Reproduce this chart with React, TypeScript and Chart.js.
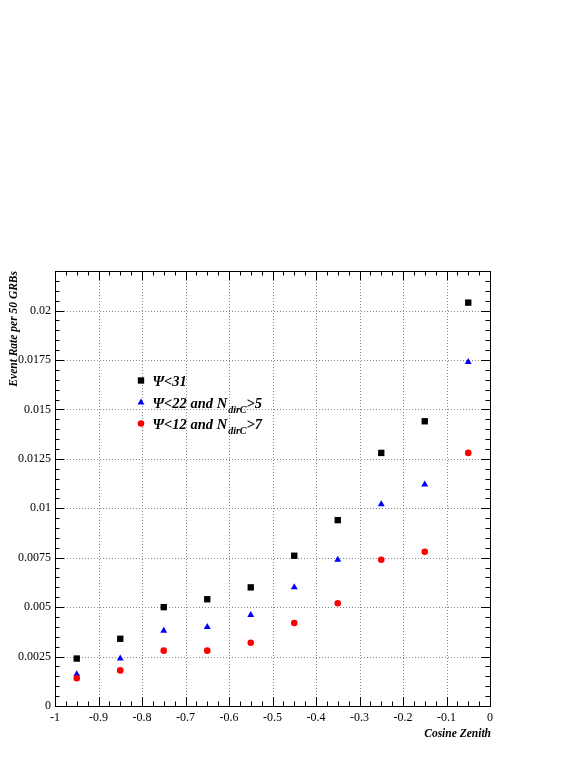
import React, { useEffect, useRef } from "react";
import { Chart, registerables } from "chart.js";

Chart.register(...registerables);

// ---- data ----
const cosZenith = [-0.95, -0.85, -0.75, -0.65, -0.55, -0.45, -0.35, -0.25, -0.15, -0.05];
const psi31 = [0.0024, 0.0034, 0.005, 0.0054, 0.006, 0.0076, 0.0094, 0.0128, 0.0144, 0.0204];
const psi22 = [0.0016, 0.0024, 0.0038, 0.004, 0.0046, 0.006, 0.0074, 0.0102, 0.0112, 0.0174];
const psi12 = [0.0014, 0.0018, 0.0028, 0.0028, 0.0032, 0.0042, 0.0052, 0.0074, 0.0078, 0.0128];

const xTicks = [-1, -0.9, -0.8, -0.7, -0.6, -0.5, -0.4, -0.3, -0.2, -0.1, 0];
const xTickLabels = ["-1", "-0.9", "-0.8", "-0.7", "-0.6", "-0.5", "-0.4", "-0.3", "-0.2", "-0.1", "0"];
const yTicks = [0, 0.0025, 0.005, 0.0075, 0.01, 0.0125, 0.015, 0.0175, 0.02];
const yTickLabels = ["0", "0.0025", "0.005", "0.0075", "0.01", "0.0125", "0.015", "0.0175", "0.02"];
const xMin = -1;
const xMax = 0;
const yMin = 0;
const yMax = 0.022;
const xMinorStep = 0.025;
const yMinorStep = 0.0005;

const seriesMain = ["\u03A8<31", "\u03A8<22 and N", "\u03A8<12 and N"];
const seriesSub = ["", "dirC", "dirC"];
const seriesTail = ["", ">5", ">7"];
const seriesColors = ["#000000", "#0000ff", "#ff0000"];
const seriesStyles = ["rect", "triangle", "circle"];
const seriesRadius = [4.5, 4, 3.3];

const xTitle = "Cosine Zenith";
const yTitle = "Event Rate per 50 GRBs";

const SERIF = '"Liberation Serif", "Times New Roman", serif';

function drawMarker(ctx: CanvasRenderingContext2D, style: string, x: number, y: number, r: number, color: string) {
  ctx.save();
  ctx.fillStyle = color;
  ctx.beginPath();
  if (style === "rect") {
    const s = Math.SQRT1_2 * r;
    ctx.rect(x - s, y - s, 2 * s, 2 * s);
  } else if (style === "triangle") {
    const a = r;
    ctx.moveTo(x, y - a);
    ctx.lineTo(x + a * Math.sin(Math.PI / 3), y + a / 2);
    ctx.lineTo(x - a * Math.sin(Math.PI / 3), y + a / 2);
    ctx.closePath();
  } else {
    ctx.arc(x, y, r, 0, Math.PI * 2);
  }
  ctx.fill();
  ctx.restore();
}

const decorPlugin = {
  id: "decor",
  beforeDatasetsDraw(chart: any) {
    const { ctx, chartArea, scales } = chart;
    const { left, right, top, bottom } = chartArea;
    const x = scales.x;
    const y = scales.y;
    ctx.save();
    ctx.strokeStyle = "#888888";
    ctx.lineWidth = 1;
    ctx.setLineDash([1, 2]);
    xTicks.forEach((v) => {
      if (v <= xMin || v >= xMax) return;
      const px = Math.round(x.getPixelForValue(v)) + 0.5;
      ctx.beginPath();
      ctx.moveTo(px, top);
      ctx.lineTo(px, bottom);
      ctx.stroke();
    });
    yTicks.forEach((v) => {
      if (v <= yMin || v >= yMax) return;
      const py = Math.round(y.getPixelForValue(v)) + 0.5;
      ctx.beginPath();
      ctx.moveTo(left, py);
      ctx.lineTo(right, py);
      ctx.stroke();
    });
    ctx.restore();
  },
  afterDatasetsDraw(chart: any) {
    const { ctx, chartArea, scales } = chart;
    const { left, right, top, bottom } = chartArea;
    const x = scales.x;
    const y = scales.y;
    ctx.save();
    ctx.strokeStyle = "#000";
    ctx.lineWidth = 1;
    ctx.setLineDash([]);
    // frame
    ctx.strokeRect(Math.round(left) + 0.5, Math.round(top) + 0.5, Math.round(right - left), Math.round(bottom - top));
    // x ticks
    const nx = Math.round((xMax - xMin) / xMinorStep);
    for (let i = 0; i <= nx; i++) {
      const v = xMin + i * xMinorStep;
      const major = i % 4 === 0;
      const len = major ? 9 : 4.5;
      const px = Math.round(x.getPixelForValue(v)) + 0.5;
      ctx.beginPath();
      ctx.moveTo(px, bottom);
      ctx.lineTo(px, bottom - len);
      ctx.moveTo(px, top);
      ctx.lineTo(px, top + len);
      ctx.stroke();
    }
    // y ticks
    const ny = Math.round((yMax - yMin) / yMinorStep);
    for (let i = 0; i <= ny; i++) {
      const v = yMin + i * yMinorStep;
      const major = i % 5 === 0;
      const len = major ? 9 : 4.5;
      const py = Math.round(y.getPixelForValue(v)) + 0.5;
      ctx.beginPath();
      ctx.moveTo(left, py);
      ctx.lineTo(left + len, py);
      ctx.moveTo(right, py);
      ctx.lineTo(right - len, py);
      ctx.stroke();
    }

    // axis titles
    ctx.fillStyle = "#000";
    ctx.font = `bold italic 11.5px ${SERIF}`;
    ctx.textAlign = "right";
    ctx.textBaseline = "alphabetic";
    ctx.fillText(xTitle, 491, 737);
    ctx.save();
    ctx.translate(17, 271);
    ctx.rotate(-Math.PI / 2);
    ctx.textAlign = "right";
    ctx.fillText(yTitle, 0, 0);
    ctx.restore();

    // legend
    const lx = 141;
    const rows = [380.5, 402.5, 423.5];
    seriesMain.forEach((main, i) => {
      const cy = rows[i];
      drawMarker(ctx, seriesStyles[i], lx, cy, seriesRadius[i], seriesColors[i]);
      let tx = 152.5;
      const base = cy + 5;
      ctx.textAlign = "left";
      ctx.fillStyle = "#000";
      ctx.font = `bold italic 14.5px ${SERIF}`;
      ctx.fillText(main, tx, base);
      tx += ctx.measureText(main).width;
      if (seriesSub[i]) {
        ctx.font = `bold italic 10px ${SERIF}`;
        ctx.fillText(seriesSub[i], tx + 1, base + 5);
        tx += ctx.measureText(seriesSub[i]).width + 1;
      }
      if (seriesTail[i]) {
        ctx.font = `bold italic 14.5px ${SERIF}`;
        ctx.fillText(seriesTail[i], tx, base);
      }
    });
    ctx.restore();
  },
};

export default function App() {
  const ref = useRef<HTMLCanvasElement | null>(null);
  useEffect(() => {
    if (!ref.current) return;
    Chart.defaults.font.family = SERIF;
    const mk = (vals: number[]) => cosZenith.map((xv, i) => ({ x: xv, y: vals[i] }));
    const allSeries = [psi31, psi22, psi12];
    const chart = new Chart(ref.current, {
      type: "scatter",
      data: {
        datasets: allSeries.map((vals, i) => ({
          label: seriesMain[i] + seriesSub[i] + seriesTail[i],
          data: mk(vals),
          pointStyle: seriesStyles[i] as any,
          pointRadius: seriesRadius[i],
          pointBackgroundColor: seriesColors[i],
          pointBorderColor: seriesColors[i],
          pointBorderWidth: 0,
          showLine: false,
          order: 3 - i,
        })),
      },
      options: {
        responsive: false,
        animation: false,
        devicePixelRatio: 1,
        layout: { padding: { top: 271, right: 98, left: 0, bottom: 0 }, autoPadding: false } as any,
        plugins: { legend: { display: false }, tooltip: { enabled: false } },
        scales: {
          x: {
            type: "linear",
            min: xMin,
            max: xMax,
            grid: { display: false, drawTicks: false },
            border: { display: false },
            afterBuildTicks: (s: any) => {
              s.ticks = xTicks.map((v) => ({ value: v }));
            },
            afterFit: (s: any) => {
              s.height = 55;
            },
            ticks: {
              color: "#000",
              font: { size: 12, family: SERIF },
              padding: 5,
              maxRotation: 0,
              autoSkip: false,
              callback: (_v: any, i: number) => xTickLabels[i],
            },
          },
          y: {
            type: "linear",
            min: yMin,
            max: yMax,
            grid: { display: false, drawTicks: false },
            border: { display: false },
            afterBuildTicks: (s: any) => {
              s.ticks = yTicks.map((v) => ({ value: v }));
            },
            afterFit: (s: any) => {
              s.width = 55;
            },
            ticks: {
              color: "#000",
              font: { size: 12, family: SERIF },
              padding: 4,
              autoSkip: false,
              callback: (_v: any, i: number) => yTickLabels[i],
            },
          },
        },
      },
      plugins: [decorPlugin],
    });
    return () => chart.destroy();
  }, []);
  return (
    <canvas
      ref={ref}
      width={588}
      height={761}
      style={{ position: "absolute", left: 0, top: 0, width: 588, height: 761, display: "block" }}
    />
  );
}
